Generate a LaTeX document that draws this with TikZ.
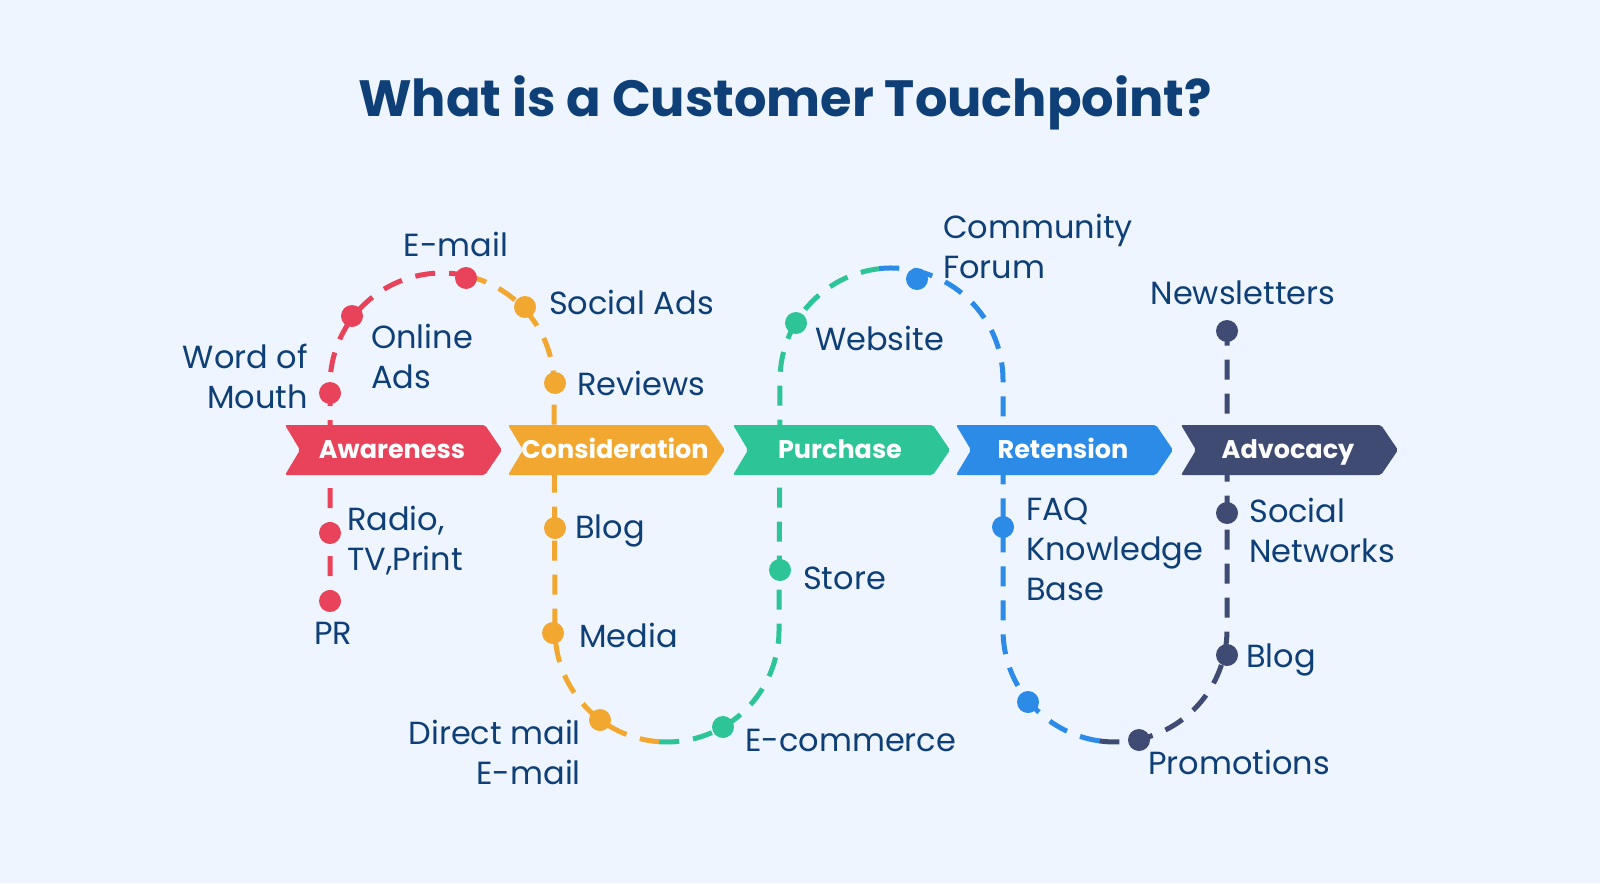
\documentclass[tikz,border=0pt]{standalone}
\usepackage{fontspec}
\setmainfont{Poppins}
\definecolor{bgcol}{HTML}{EEF5FE}
\definecolor{txtcol}{HTML}{0E3F77}
\definecolor{awcol}{HTML}{E8435A}
\definecolor{cocol}{HTML}{F2A830}
\definecolor{pucol}{HTML}{2DC598}
\definecolor{recol}{HTML}{2B8BE6}
\definecolor{adcol}{HTML}{3F4B72}
\tikzset{
  trail/.style={line width=5pt,dash pattern=on 20pt off 14pt},
  dot/.style={circle,fill=#1,minimum size=22pt,inner sep=0pt},
  lbl/.style={text=txtcol,font=\fontsize{32}{40}\selectfont,inner sep=0pt,align=left},
  stage/.style={text=white,font=\bfseries\fontsize{25.5}{30}\selectfont,text height=18pt,text depth=5pt,inner sep=0pt}
}
\newcommand{\chevron}[3]{% left x, colour, text
  \fill[#2,rounded corners=2pt] (#1,425) -- ++(200,0) -- ++(17,25) -- ++(-17,25)
    -- ++(-200,0) -- ++(15,-25) -- cycle;
  \node[stage] (#3) at (#1+107,452) {#3};}
\begin{document}
\begin{tikzpicture}[x=1pt,y=-1pt]
\useasboundingbox[fill=bgcol] (0,0) rectangle (1600,883);
\node[text=txtcol,font=\bfseries\fontsize{51}{56}\selectfont] (title) at (785,103) {What is a Customer Touchpoint?};
% trail
\draw[trail,awcol] (330,610) -- (330,385) arc[start angle=180,end angle=77,radius=112pt];
\draw[trail,cocol] (467.2,275.9) arc[start angle=77,end angle=0,radius=112pt] -- (555,630)
  arc[start angle=180,end angle=266,radius=112pt];
\draw[trail,pucol] (659.2,741.7) arc[start angle=266,end angle=360,radius=112pt] -- (780,380)
  arc[start angle=180,end angle=96,radius=112pt];
\draw[trail,recol] (879.3,268.6) arc[start angle=96,end angle=0,radius=112pt] -- (1003,630)
  arc[start angle=180,end angle=262,radius=112pt];
\draw[trail,adcol] (1099.4,740.9) arc[start angle=262,end angle=360,radius=112pt] -- (1227,330);
% stages
\chevron{285}{awcol}{Awareness}
\chevron{508}{cocol}{Consideration}
\chevron{733}{pucol}{Purchase}
\chevron{956}{recol}{Retension}
\chevron{1181}{adcol}{Advocacy}
% dots
\node[dot=awcol] (email) at (466,278) {};
\node[dot=awcol] (online) at (352,316) {};
\node[dot=awcol] (word) at (330,393) {};
\node[dot=awcol] (radio) at (330,533) {};
\node[dot=awcol] (pr) at (330,601) {};
\node[dot=cocol] (social) at (525,307) {};
\node[dot=cocol] (reviews) at (555,383) {};
\node[dot=cocol] (blog) at (555,528) {};
\node[dot=cocol] (media) at (553,633) {};
\node[dot=cocol] (direct) at (600,720) {};
\node[dot=pucol] (ecom) at (723,727) {};
\node[dot=pucol] (store) at (780,570) {};
\node[dot=pucol] (web) at (796,323) {};
\node[dot=recol] (forum) at (917,279) {};
\node[dot=recol] (faq) at (1003,527) {};
\node[dot=recol] (ret) at (1028,702) {};
\node[dot=adcol] (promo) at (1139,740) {};
\node[dot=adcol] (blogb) at (1227,655) {};
\node[dot=adcol] (netw) at (1227,513) {};
\node[dot=adcol] (news) at (1227,331) {};
% labels
\node[lbl] (emailL) at (456,244) {E-mail};
\node[lbl,anchor=west] (onlineL) at (371,356) {Online\\Ads};
\node[lbl,anchor=east,align=right] (wordL) at (308,376) {Word of\\Mouth};
\node[lbl,anchor=west] (radioL) at (347,541) {Radio,\\TV,Print};
\node[lbl] (prL) at (333,633) {PR};
\node[lbl,anchor=west] (socialL) at (549,302) {Social Ads};
\node[lbl,anchor=west] (reviewsL) at (577,383) {Reviews};
\node[lbl,anchor=west] (blogL) at (575,531) {Blog};
\node[lbl,anchor=west] (mediaL) at (579,635) {Media};
\node[lbl,anchor=east,align=right] (directL) at (581,752) {Direct mail\\E-mail};
\node[lbl,anchor=west] (ecomL) at (745,740) {E-commerce};
\node[lbl,anchor=west] (storeL) at (803,578) {Store};
\node[lbl,anchor=west] (webL) at (815,338) {Website};
\node[lbl,anchor=west] (forumL) at (943,246) {Community\\Forum};
\node[lbl,anchor=west] (faqL) at (1026,549) {FAQ\\Knowledge\\Base};
\node[lbl,anchor=west] (promoL) at (1148,762) {Promotions};
\node[lbl,anchor=west] (blogbL) at (1246,660) {Blog};
\node[lbl,anchor=west] (netwL) at (1249,530) {Social\\Networks};
\node[lbl] (newsL) at (1243,293) {Newsletters};
\end{tikzpicture}
\end{document}
